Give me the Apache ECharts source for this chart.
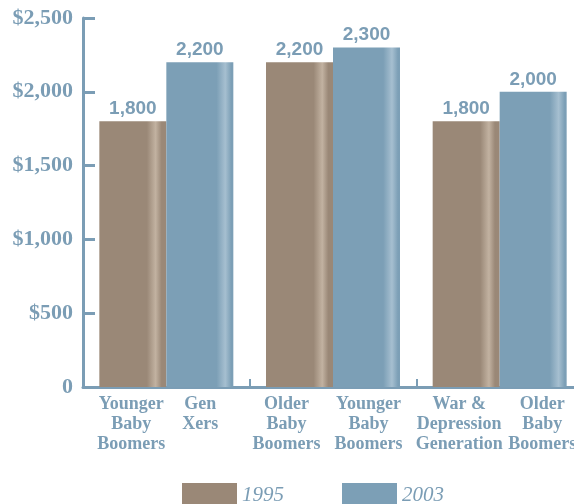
<!DOCTYPE html>
<html>
<head>
<meta charset="utf-8">
<script src="https://cdn.jsdelivr.net/npm/echarts@6/dist/echarts.min.js"></script>
<style>
  html, body { margin: 0; padding: 0; background: #ffffff; }
  #chart { width: 574px; height: 504px; }
</style>
</head>
<body>
<div id="chart"></div>
<script>
// Average spending per household, 1995 vs 2003, by generation
const groupKeys = ['0', '1', '2'];
const names1995 = [['Younger', 'Baby', 'Boomers'], ['Older', 'Baby', 'Boomers'], ['War &', 'Depression', 'Generation']];
const names2003 = [['Gen', 'Xers'], ['Younger', 'Baby', 'Boomers'], ['Older', 'Baby', 'Boomers']];
const values1995 = [1800, 2200, 1800];
const values2003 = [2200, 2300, 2000];
const seriesNames = ['1995', '2003'];

const ink = '#7b9db5';
const brown = '#9a8877';
const blue = '#7c9fb6';

// Column widths for the two stacked name columns under each group
const colWidths = [[68, 70], [71, 93], [85, 81]];
const rich = {};
colWidths.forEach(function (w, i) {
  const base = { fontFamily: 'Liberation Serif', fontWeight: 'bold', fontSize: 18, lineHeight: 20, color: ink, align: 'center' };
  rich['l' + i] = Object.assign({ width: w[0] }, base);
  rich['r' + i] = Object.assign({ width: w[1] }, base);
});

function groupLabel(value, idx) {
  const left = names1995[idx], right = names2003[idx];
  const n = Math.max(left.length, right.length);
  const lines = [];
  for (let k = 0; k < n; k++) {
    lines.push('{l' + idx + '|' + (left[k] || ' ') + '}{r' + idx + '|' + (right[k] || ' ') + '}');
  }
  return lines.join('\n');
}

// Flat bar colour with a soft vertical highlight near the right edge
function barFill(base, light, at) {
  return {
    type: 'linear', x: 0, y: 0, x2: 1, y2: 0,
    colorStops: [
      { offset: 0, color: base },
      { offset: at - 0.13, color: base },
      { offset: at, color: light },
      { offset: at + 0.09, color: base },
      { offset: 1, color: base }
    ]
  };
}

const valueLabel = {
  show: true,
  position: 'top',
  distance: 3,
  color: ink,
  fontFamily: 'Liberation Sans',
  fontWeight: 'bold',
  fontSize: 19,
  formatter: function (p) { return p.value.toLocaleString('en-US'); }
};

const chart = echarts.init(document.getElementById('chart'), null, { renderer: 'canvas' });
chart.setOption({
  animation: false,
  backgroundColor: '#ffffff',
  grid: { left: 83, top: 18, width: 500, height: 369, containLabel: false, outerBoundsMode: 'none' },
  legend: {
    left: 182,
    top: 483,
    padding: 0,
    itemWidth: 55,
    itemHeight: 24,
    itemGap: 58,
    icon: 'rect',
    data: [
      { name: seriesNames[0], itemStyle: { color: brown } },
      { name: seriesNames[1], itemStyle: { color: blue } }
    ],
    textStyle: { fontFamily: 'Liberation Serif', fontStyle: 'italic', fontSize: 21, color: ink }
  },
  xAxis: {
    type: 'category',
    data: groupKeys,
    axisLine: { show: true, lineStyle: { color: ink, width: 3 } },
    axisTick: { show: true, inside: true, length: 8, lineStyle: { color: ink, width: 2 } },
    axisLabel: { margin: 7, formatter: groupLabel, rich: rich, interval: 0, hideOverlap: false }
  },
  yAxis: {
    type: 'value',
    min: 0,
    max: 2500,
    interval: 500,
    axisLine: { show: true, lineStyle: { color: ink, width: 3 } },
    axisTick: { show: true, inside: true, length: 12, lineStyle: { color: ink, width: 3 } },
    splitLine: { show: false },
    axisLabel: {
      margin: 10,
      color: ink,
      fontFamily: 'Liberation Serif',
      fontWeight: 'bold',
      fontSize: 22,
      formatter: function (v) { return v === 0 ? '0' : '$' + v.toLocaleString('en-US'); }
    }
  },
  series: [
    {
      name: seriesNames[0],
      type: 'bar',
      data: values1995,
      barWidth: 67,
      barGap: '0%',
      itemStyle: { color: barFill(brown, '#c2b2a1', 0.84) },
      label: valueLabel
    },
    {
      name: seriesNames[1],
      type: 'bar',
      data: values2003,
      barWidth: 67,
      barGap: '0%',
      itemStyle: { color: barFill(blue, '#a6bfd0', 0.88) },
      label: valueLabel
    }
  ]
});
</script>
</body>
</html>
